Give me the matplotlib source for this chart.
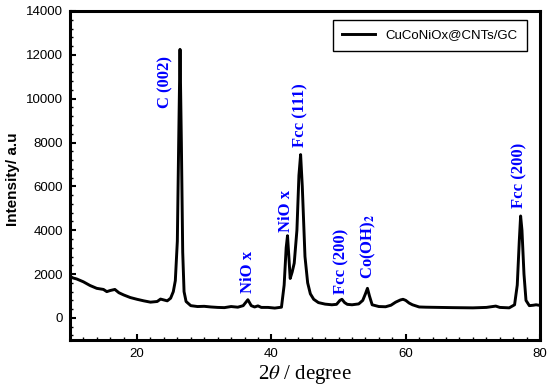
import matplotlib
matplotlib.use("Agg")
import matplotlib.pyplot as plt
from matplotlib.ticker import MultipleLocator

plt.rcParams['font.family'] = ['Liberation Sans', 'DejaVu Sans']
plt.rcParams['mathtext.fontset'] = 'stix'

# XRD pattern
two_theta = [10.0, 10.5, 11.0, 12.0, 13.0, 14.0, 15.0, 15.5, 16.0, 16.7, 17.3, 18.0, 19.0, 20.0,
             21.0, 22.0, 23.0, 23.5, 24.0, 24.5, 25.0, 25.4, 25.7, 26.0, 26.2, 26.4, 26.6, 26.8,
             27.0, 27.3, 28.0, 29.0, 30.0, 31.0, 32.0, 33.0, 34.0, 35.0, 35.8, 36.5, 37.0, 37.5,
             38.0, 38.5, 39.5, 40.5, 41.5, 41.9, 42.2, 42.4, 42.6, 42.8, 43.1, 43.4, 43.8, 44.1,
             44.35, 44.6, 45.0, 45.4, 45.8, 46.3, 47.0, 48.0, 49.0, 49.7, 50.2, 50.5, 50.9, 51.3,
             52.0, 53.0, 53.6, 54.0, 54.3, 54.6, 55.0, 56.0, 57.0, 57.8, 58.5, 59.2, 59.6, 60.0,
             60.5, 61.0, 62.0, 63.0, 65.0, 67.0, 70.0, 72.0, 73.4, 74.0, 75.4, 76.2, 76.6, 76.9,
             77.1, 77.3, 77.6, 77.9, 78.4, 79.0, 79.4, 80.0]
intensity = [1900, 1820, 1780, 1650, 1480, 1350, 1300, 1200, 1250, 1300, 1150, 1050, 930, 850,
             780, 720, 750, 860, 820, 780, 900, 1200, 1700, 3500, 8000, 12250, 8000, 3000,
             1200, 750, 560, 520, 530, 500, 480, 470, 520, 490, 560, 830, 560, 500,
             550, 480, 480, 450, 490, 1500, 3200, 3750, 2800, 1800, 2100, 2500, 4000, 6500,
             7450, 6000, 2800, 1600, 1100, 850, 700, 630, 600, 620, 800, 850, 700, 620,
             600, 640, 800, 1100, 1350, 1000, 600, 520, 510, 580, 720, 820, 850, 800,
             680, 600, 500, 490, 480, 470, 460, 480, 540, 480, 460, 600, 1500, 3500,
             4650, 4000, 2000, 800, 560, 580, 600, 570]

peak_labels = ['C (002)', 'NiO x', 'NiO x', 'Fcc (111)', 'Fcc (200)',
               r'Co(OH)$_\mathbf{2}$', 'Fcc (200)']
label_x = [24.2, 36.5, 42.2, 44.3, 50.4, 54.4, 76.9]
label_y = [10750, 2100, 4900, 9250, 2600, 3250, 6500]

fig = plt.figure(figsize=(5.5, 3.92), dpi=100)
ax = fig.add_axes([0.127, 0.133, 0.855, 0.839])

ax.plot(two_theta, intensity, color='black', lw=2.1, label='CuCoNiOx@CNTs/GC')

for lab, px, py in zip(peak_labels, label_x, label_y):
    ax.text(px, py, lab, rotation=90, ha='center', va='center', color='blue',
            fontsize=12, fontweight='bold', family='Liberation Serif')

ax.set_xlim(10, 80)
ax.set_ylim(-1000, 14000)
ax.xaxis.set_major_locator(MultipleLocator(20))
ax.xaxis.set_minor_locator(MultipleLocator(2))
ax.yaxis.set_major_locator(MultipleLocator(2000))
ax.yaxis.set_minor_locator(MultipleLocator(400))
ax.tick_params(which='both', direction='in', top=False, right=False, labelsize=9.5)
ax.tick_params(which='major', length=4, width=1.5)
ax.tick_params(which='minor', length=2.5, width=1.0)
ax.tick_params(axis='x', pad=6)
ax.tick_params(axis='y', pad=5)
for sp in ax.spines.values():
    sp.set_linewidth(2.2)

ax.set_xlabel(r'2$\mathit{\theta}$ / degree', family='Liberation Serif', fontsize=15, labelpad=2)
ax.set_ylabel('Intensity/ a.u', fontsize=11, fontweight='bold')
ax.yaxis.set_label_coords(-0.105, 0.49)

leg = ax.legend(loc='upper right', bbox_to_anchor=(0.972, 0.973), borderaxespad=0,
                fancybox=False, edgecolor='black', fontsize=9.5, handlelength=2.5,
                borderpad=0.7, framealpha=1)
leg.get_frame().set_linewidth(1.0)

fig.savefig('out.png', dpi=100)
